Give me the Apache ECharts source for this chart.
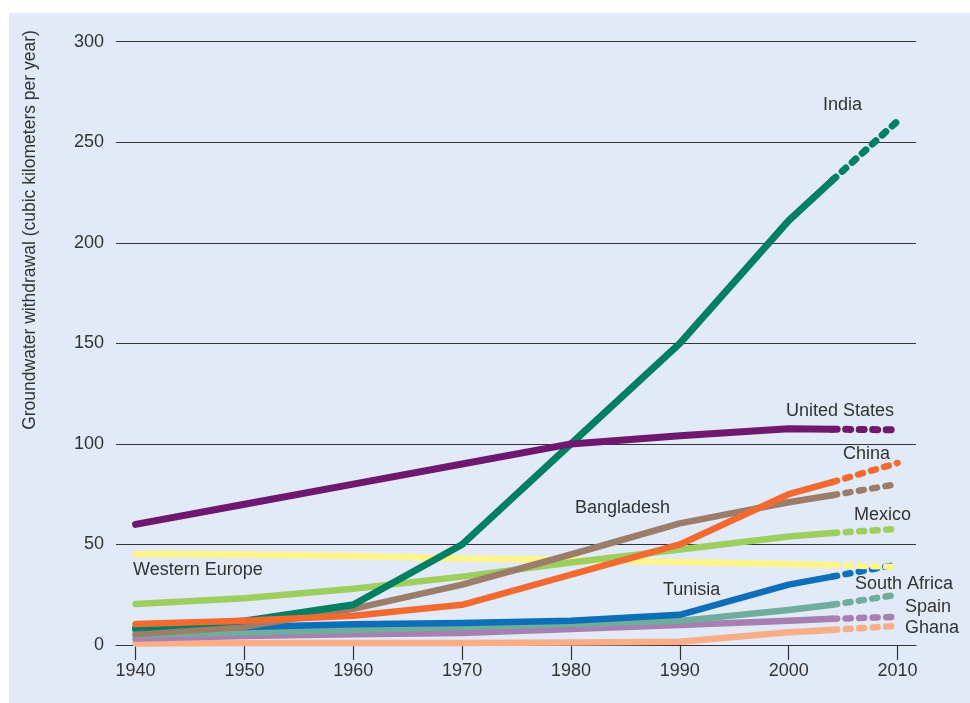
<!DOCTYPE html>
<html>
<head>
<meta charset="utf-8">
<script src="https://cdn.jsdelivr.net/npm/echarts@6/dist/echarts.min.js"></script>
<style>
  html, body { margin: 0; padding: 0; background: #ffffff; }
  #chart { width: 970px; height: 703px; }
</style>
</head>
<body>
<div id="chart"></div>
<script>
// ---- data ----
const years = [1940, 1950, 1960, 1970, 1980, 1990, 2000, 2004, 2010];
const tickYears = [1940, 1950, 1960, 1970, 1980, 1990, 2000, 2010];
const yTicks = [0, 50, 100, 150, 200, 250, 300];

const india        = [8.5, 12, 20, 50, 100, 150, 211, 231, 260.5];
const unitedStates = [60, 70, 80, 90, 100, 104, 107.5, 107.3, 107];
const china        = [10.4, 12, 14.5, 20, 35, 50, 75, 81, 90.5];
const bangladesh   = [5.5, 9, 18, 30, 45, 60.5, 71, 74.5, 80];
const mexico       = [20.4, 23.3, 28, 34, 41, 47.5, 54, 55.7, 57.7];
const westernEurope= [45.3, 45, 44.3, 43, 42.3, 41.3, 40.3, 39.8, 38.8];
const tunisia      = [7.5, 9, 10.3, 11, 12, 15, 30, 34, 40];
const southAfrica  = [5, 6.3, 7.5, 9, 10.5, 12, 17.4, 20, 25];
const spain        = [3.2, 4.5, 5.3, 6, 8, 10, 12, 13, 14];
const ghana        = [0.7, 1, 1, 1, 1.3, 1.6, 6.3, 7.5, 9.5];

const countries = [
  { name: 'Ghana', values: ghana, color: '#f9ae88', width: 6.5 },
  { name: 'Spain', values: spain, color: '#a77fb0', width: 6.5 },
  { name: 'South Africa', values: southAfrica, color: '#6fae9c', width: 6.5 },
  { name: 'Tunisia', values: tunisia, color: '#0d6fba', width: 6.5 },
  { name: 'Western Europe', values: westernEurope, color: '#fff48c', width: 6.5 },
  { name: 'Mexico', values: mexico, color: '#9ccf5e', width: 6.5 },
  { name: 'Bangladesh', values: bangladesh, color: '#9c7d6a', width: 6.5 },
  { name: 'India', values: india, color: '#008060', width: 7 },
  { name: 'China', values: china, color: '#f26a30', width: 6.5 },
  { name: 'United States', values: unitedStates, color: '#6e1870', width: 7 }
];

const solidEnd = 7; // index of 2004: solid to here, dashed after

const series = [];
countries.forEach(c => {
  const pts = years.map((y, i) => [y, c.values[i]]);
  series.push({
    name: c.name, type: 'line', data: pts.slice(0, solidEnd + 1),
    symbol: 'none', silent: true,
    lineStyle: { color: c.color, width: c.width, cap: 'round', join: 'round' }
  });
  series.push({
    name: c.name + ' (projected)', type: 'line', data: pts.slice(solidEnd),
    symbol: 'none', silent: true,
    lineStyle: { color: c.color, width: c.width, type: [5, 8.5], cap: 'round' }
  });
});

const FONT = 'Liberation Sans, Arial, Helvetica, sans-serif';
const labelStyle = { fontSize: 18, fontFamily: FONT, fill: '#333333', verticalAlign: 'middle', align: 'left' };
function lab(text, x, y) {
  return { type: 'text', x: x, y: y, silent: true, z: 100, style: Object.assign({ text: text }, labelStyle) };
}

const chart = echarts.init(document.getElementById('chart'), null, { renderer: 'canvas' });
chart.setOption({
  animation: false,
  backgroundColor: '#ffffff',
  grid: { left: 116, right: 54, top: 41.7, bottom: 58, containLabel: false },
  xAxis: {
    type: 'value', min: 1938.2, max: 2011.7,
    axisLine: { show: true, lineStyle: { color: '#333333', width: 1 } },
    axisTick: { show: true, inside: false, length: 15, customValues: tickYears, lineStyle: { color: '#333333', width: 1.2 } },
    axisLabel: { customValues: tickYears, fontSize: 18, fontFamily: FONT, color: '#333333', margin: 17,
                 formatter: v => String(v) },
    splitLine: { show: false }
  },
  yAxis: {
    type: 'value', min: 0, max: 300, interval: 50,
    axisLine: { show: false }, axisTick: { show: false },
    axisLabel: { fontSize: 18, fontFamily: FONT, color: '#333333', margin: 12 },
    splitLine: { show: true, lineStyle: { color: '#333333', width: 1 } }
  },
  graphic: [
    { type: 'rect', z: -10, silent: true, shape: { x: 9, y: 13, width: 961, height: 690 }, style: { fill: '#e1eaf6' } },
    { type: 'text', x: 30.5, y: 230, rotation: Math.PI / 2, silent: true,
      style: { text: 'Groundwater withdrawal (cubic kilometers per year)', fontSize: 17.5, fontFamily: FONT,
               fill: '#333333', align: 'center', verticalAlign: 'middle' } },
    lab('India', 823, 105),
    lab('United States', 786, 411.5),
    lab('China', 843, 454),
    lab('Mexico', 854, 515),
    lab('Bangladesh', 575, 508),
    lab('Western Europe', 133, 570.5),
    lab('Tunisia', 663, 590),
    lab('South Africa', 855, 584),
    lab('Spain', 905, 607.5),
    lab('Ghana', 905, 628.5)
  ],
  series: series
});
</script>
</body>
</html>
